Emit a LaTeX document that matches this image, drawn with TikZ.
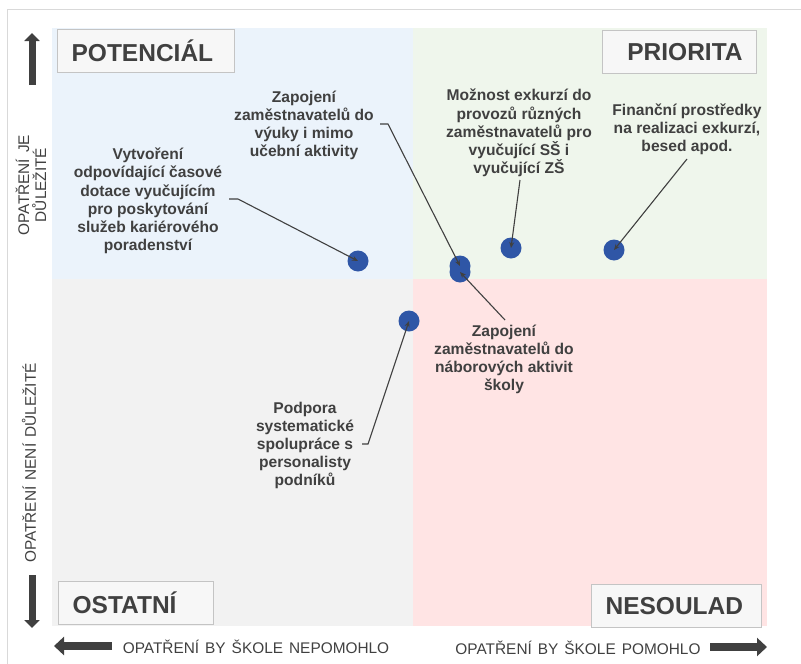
\documentclass[tikz,border=0pt]{standalone}
\usepackage{fontspec}
\setmainfont{Liberation Sans}
\usetikzlibrary{arrows.meta}
\definecolor{qblue}{RGB}{235,243,251}
\definecolor{qgreen}{RGB}{239,246,236}
\definecolor{qgray}{RGB}{242,242,242}
\definecolor{qpink}{RGB}{255,228,228}
\definecolor{dotblue}{RGB}{47,86,166}
\definecolor{txtgray}{RGB}{64,64,64}
\definecolor{boxgray}{RGB}{196,196,196}
\definecolor{framegray}{RGB}{217,217,217}
\newcommand{\axfont}{\fontsize{15.4}{17}\selectfont\spaceskip=6pt\relax}

\begin{document}
\begin{tikzpicture}[x=1pt,y=-1pt,>={Stealth[length=6pt,width=5pt]}]
\tikzstyle{qbox}=[draw=boxgray,fill=white!97!black,line width=1.2pt,minimum height=43pt,inner xsep=14pt,inner ysep=0pt,text width=#1,font=\fontsize{24.5}{27}\selectfont\bfseries,text=txtgray,anchor=north west]
\tikzstyle{dot}=[circle,fill=dotblue,minimum size=21pt,inner sep=0pt]
\tikzstyle{lbl}=[align=center,inner sep=0pt,text=txtgray,font=\fontsize{15.6}{18.2}\selectfont\bfseries]
\tikzstyle{axlbl}=[align=center,inner sep=0pt,text=txtgray,font=\axfont]
\tikzstyle{conn}=[draw=txtgray,line width=1.1pt]
\tikzstyle{bigarrow}=[draw=txtgray,line width=#1]
\useasboundingbox (0,0) rectangle (801,664);

\draw[framegray] (801,9) -- (7,9) -- (7,664); % outer frame

% quadrants
\fill[qblue] (52,28) rectangle (413,279);
\fill[qgreen] (413,28) rectangle (767,279);
\fill[qgray] (52,279) rectangle (413,626);
\fill[qpink] (413,279) rectangle (767,626);

\node[qbox=149pt,align=left] (potencial) at (57,29) {POTENCIÁL};
\node[qbox=126pt,align=right] (priorita) at (602,30) {PRIORITA};
\node[qbox=127pt,align=left] (ostatni) at (58,581) {OSTATNÍ};
\node[qbox=142pt,align=left] (nesoulad) at (591,584) {NESOULAD};

% axes
\draw[bigarrow=7pt,-{Triangle[length=8pt,width=15pt]}] (32,85) -- (32,33);
\draw[bigarrow=7pt,-{Triangle[length=8pt,width=15pt]}] (32,575) -- (32,628);
\draw[bigarrow=8pt,-{Triangle[length=10pt,width=18pt]}] (112,646) -- (54,646);
\draw[bigarrow=8pt,-{Triangle[length=10pt,width=18pt]}] (710,647) -- (767,647);
\node[axlbl,rotate=90] (important) at (31,185) {OPATŘENÍ JE\\DŮLEŽITÉ};
\node[axlbl,rotate=90] (notimportant) at (29,463) {OPATŘENÍ NENÍ DŮLEŽITÉ};
\node[axlbl] (nohelp) at (256,647) {OPATŘENÍ BY ŠKOLE NEPOMOHLO};
\node[axlbl] (help) at (578,648) {OPATŘENÍ BY ŠKOLE POMOHLO};

% measures
\node[dot] (d1) at (358,261) {};
\node[dot] (d2) at (460,266) {};
\node[dot] (d5) at (460,272) {};
\node[dot] (d3) at (511,248) {};
\node[dot] (d4) at (614,250) {};
\node[dot] (d6) at (409,321) {};

\node[lbl] (l1) at (148,201) {Vytvoření\\odpovídající časové\\dotace vyučujícím\\pro poskytování\\služeb kariérového\\poradenství};
\node[lbl] (l2) at (304,125.5) {Zapojení\\zaměstnavatelů do\\výuky i mimo\\učební aktivity};
\node[lbl] (l3) at (519,133) {Možnost exkurzí do\\provozů různých\\zaměstnavatelů pro\\vyučující SŠ i\\vyučující ZŠ};
\node[lbl] (l4) at (687,129.5) {Finanční prostředky\\na realizaci exkurzí,\\besed apod.};
\node[lbl] (l5) at (504,359.5) {Zapojení\\zaměstnavatelů do\\náborových aktivit\\školy};
\node[lbl] (l6) at (305,445.5) {Podpora\\systematické\\spolupráce s\\personalisty\\podníků};

\coordinate (c1) at (229,199);
\coordinate (c2) at (380,124);
\coordinate (c3) at (520,180);
\coordinate (c4) at (687,159);
\coordinate (c5) at (505,320);
\coordinate (c6) at (362,444);

\draw[conn,->] (c1) -- ++(9,0) -- (d1.center);
\draw[conn,->] (c2) -- ++(8,0) -- (d2.center);
\draw[conn,->] (c5) -- (d5.center);
\draw[conn,->] (c3) -- (d3.center);
\draw[conn,->] (c4) -- (d4.center);
\draw[conn,->] (c6) -- ++(6,0) -- (d6.center);

\end{tikzpicture}
\end{document}
